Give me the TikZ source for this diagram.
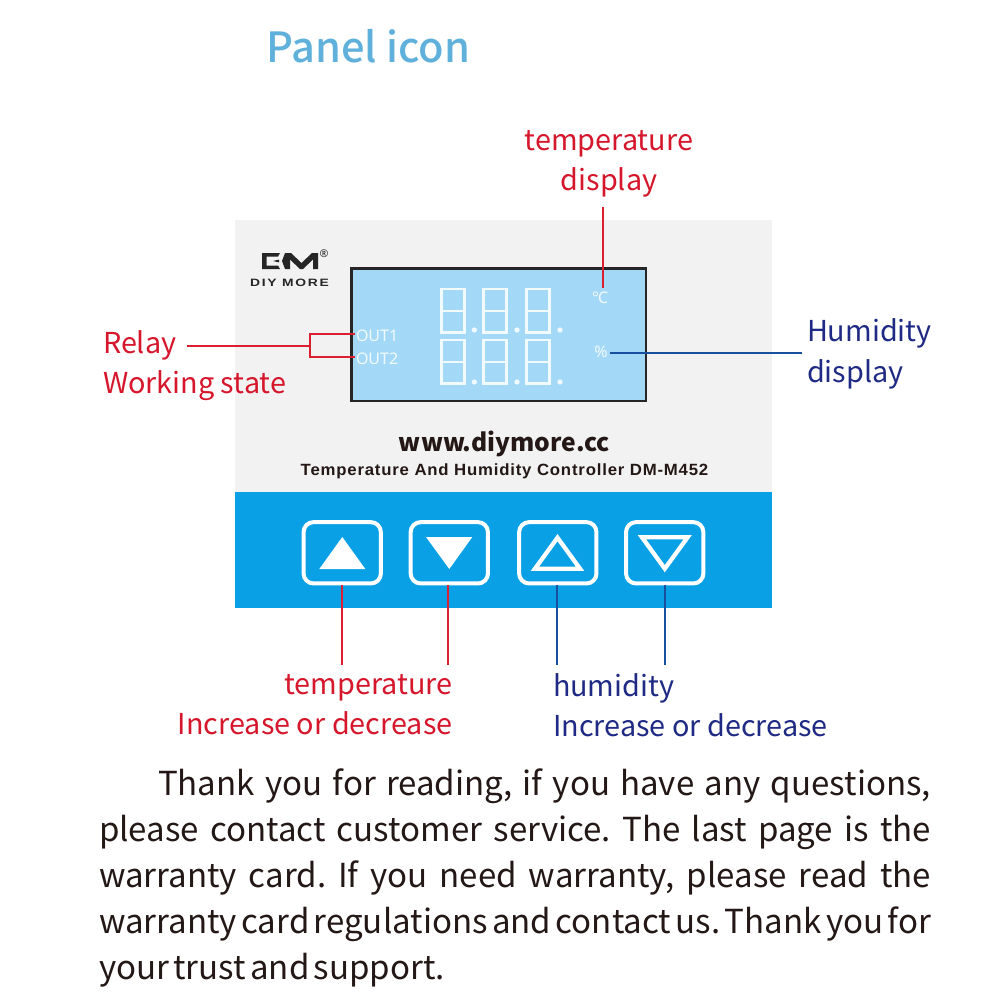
\documentclass[tikz,border=0pt]{standalone}
\usepackage{fontspec}
\setmainfont{Noto Sans CJK SC}
\newfontfamily\titlefont{Noto Sans CJK SC Medium}
\newfontfamily\logofont[LetterSpace=16,FakeStretch=1.3]{Liberation Sans}
\newfontfamily\subfont[LetterSpace=5,FakeStretch=1.03]{Liberation Sans}
\newfontfamily\lcdfont{Noto Sans}
\definecolor{titleblue}{HTML}{5FB1DC}
\definecolor{labred}{HTML}{D5162B}
\definecolor{labblue}{HTML}{1F2A84}
\definecolor{linered}{HTML}{DC1F30}
\definecolor{lineblue}{HTML}{16509F}
\definecolor{panelgrey}{HTML}{F2F2F2}
\definecolor{keyblue}{HTML}{0AA0E6}
\definecolor{lcdblue}{HTML}{A3D8F6}
\definecolor{bodyink}{HTML}{231815}
\definecolor{lcdwhite}{HTML}{F1FAFF}
\newcommand{\justline}[2]{\hbox to #1{\frenchspacing\spaceskip=.1em plus 1fil minus .1em\relax #2}}
\tikzset{
  x=0.75pt,y=-0.75pt,
  txt/.style={inner sep=0pt,outer sep=0pt},
  lab/.style={txt,font=\fontsize{21.6pt}{24pt}\selectfont},
  red lab/.style={lab,text=labred},
  blue lab/.style={lab,text=labblue},
  body/.style={txt,anchor=base west,text=bodyink,font=\fontsize{24.8pt}{28pt}\selectfont},
  redline/.style={draw=linered,line width=1.5pt},
  blueline/.style={draw=lineblue,line width=1.5pt},
  keybox/.style={draw=white,line width=3pt,rounded corners=7.5pt,minimum width=58pt,minimum height=46pt,inner sep=0pt},
  seg/.style={draw=lcdwhite,line width=1.7pt},
  lcdlab/.style={txt,text=lcdwhite,font=\lcdfont\fontsize{12pt}{14pt}\selectfont},
  dot/.style={fill=lcdwhite,circle,inner sep=0pt,minimum size=4pt},
}
\newcommand{\digitat}[2]{%
  \draw[seg] (#1,#2) rectangle ++(23,43.5);
  \draw[seg] (#1,#2+22) -- ++(23,0);
}
\begin{document}
\begin{tikzpicture}
\useasboundingbox (0,0) rectangle (1000,1000);
\fill[white] (0,0) rectangle (1000,1000);
% panel
\fill[panelgrey] (235,220) rectangle (772,492);
\fill[keyblue] (235,492) rectangle (772,608);
\draw[black!85,fill=lcdblue,line width=1.9pt] (351.5,268.5) rectangle (646,401);
% title
\node[txt,anchor=base west,text=titleblue,font=\titlefont\fontsize{31.2pt}{34pt}\selectfont] (title) at (266,62) {Panel icon};
% logo
\fill[black!85] (262,253) -- (280,253) -- (278,256.5) -- (266.5,256.5) -- (266.5,265.5) -- (278,265.5) -- (280,269) -- (262,269) -- cycle;
\fill[black!85] (273,261) -- (279,259.6) -- (279,262.4) -- cycle;
\fill[black!85] (285,253) -- (291,253) -- (301.5,263) -- (312,253) -- (318,253) -- (318,269) -- (313,269) -- (313,259.5) -- (303,269) -- (300,269) -- (290,259.5) -- (290,269) -- (285,269) -- (282,261) -- cycle;
\node[txt,text=black!85,font=\lcdfont\fontsize{8pt}{9pt}\selectfont] (reg) at (324,253.5) {®};
\node[txt,anchor=base,text=black!85,font=\logofont\bfseries\fontsize{8pt}{9pt}\selectfont] (diymore) at (289.5,286.5) {DIY MORE};
% display digits
\digitat{441.5}{289}\digitat{483.5}{289}\digitat{526.5}{289}
\digitat{441.5}{340}\digitat{483.5}{340}\digitat{526.5}{340}
\foreach \n/\dx/\dy in {a/474.3/330,b/517/330,c/560/330,d/474.3/382,e/517/382,f/560/382}
  \node[dot] (dot\n) at (\dx,\dy) {};
\node[lcdlab,anchor=base west] (out1) at (356,341) {OUT1};
\node[lcdlab,anchor=base west] (out2) at (356,364) {OUT2};
\node[lcdlab,anchor=base] (degc) at (600,303) {℃};
\node[lcdlab,anchor=base] (pct) at (601,357) {\%};
% panel text
\node[txt,anchor=base,text=bodyink,font=\bfseries\fontsize{18.5pt}{20pt}\selectfont] (web) at (504.5,451) {www.diymore.cc};
\node[txt,anchor=base,text=bodyink,font=\subfont\bfseries\fontsize{12.2pt}{13pt}\selectfont] (sub) at (504.5,475) {Temperature And Humidity Controller DM-M452};
% keys
\node[keybox] (k1) at (342.2,552.8) {};
\node[keybox] (k2) at (449.3,552.8) {};
\node[keybox] (k3) at (557.8,552.8) {};
\node[keybox] (k4) at (664.7,552.8) {};
\fill[white] (342.3,537) -- (365.3,569) -- (319.3,569) -- cycle;
\fill[white] (426,537) -- (472.3,537) -- (449.3,569) -- cycle;
\draw[white,line width=3.2pt,miter limit=10] (557.5,537.7) -- (580.1,568.8) -- (534.9,568.8) -- cycle;
\draw[white,line width=3.2pt,miter limit=10] (641.9,537.15) -- (687.7,537.15) -- (664.8,568.65) -- cycle;
% labels
\node[red lab,anchor=base] (ltd1) at (609,150) {temperature};
\node[red lab,anchor=base] (ltd2) at (609,190) {display};
\node[red lab,anchor=base west] (lrelay) at (103,353) {Relay};
\node[red lab,anchor=base west] (lwork) at (103,393) {Working state};
\node[blue lab,anchor=base west] (lhum1) at (807,341) {Humidity};
\node[blue lab,anchor=base west] (lhum2) at (807,382) {display};
\node[red lab,anchor=base east] (lti1) at (452.5,694) {temperature};
\node[red lab,anchor=base east] (lti2) at (452.5,734) {Increase or decrease};
\node[blue lab,anchor=base west] (lhi1) at (553,696) {humidity};
\node[blue lab,anchor=base west] (lhi2) at (553,736) {Increase or decrease};
% connectors
\coordinate (ctop) at (603,207);
\coordinate (cbot) at (603,288);
\draw[redline] (ctop) -- (cbot);
\coordinate (pctend) at (610,352.5);
\coordinate (humend) at (802,352.5);
\draw[blueline] (pctend) -- (humend);
\coordinate (rstart) at (187,346);
\coordinate (rj) at (309.5,346);
\coordinate (ro1) at (355,334);
\coordinate (ro2) at (355,357);
\draw[redline] (rstart) -- (rj);
\draw[redline] (ro1) -| (rj) |- (ro2);
\coordinate (e1) at (342.2,665);
\coordinate (e2) at (448,665);
\coordinate (e3) at (557,665);
\coordinate (e4) at (665,665);
\draw[redline] (k1.south) -- (e1);
\draw[redline] (k2.south -| e2) -- (e2);
\draw[blueline] (k3.south -| e3) -- (e3);
\draw[blueline] (k4.south -| e4) -- (e4);
% body
\node[body] (b1) at (158,795) {\justline{579.75pt}{Thank you for reading, if you have any questions,}};
\node[body] (b2) at (99,841) {\justline{624pt}{please contact customer service. The last page is the}};
\node[body] (b3) at (99,887) {\justline{624pt}{warranty card. If you need warranty, please read the}};
\node[body] (b4) at (99,933) {\justline{624pt}{warranty card regulations and contact us. Thank you for}};
\node[body] (b5) at (99,979) {\spaceskip=.13em\relax your trust and support.};
\end{tikzpicture}
\end{document}
